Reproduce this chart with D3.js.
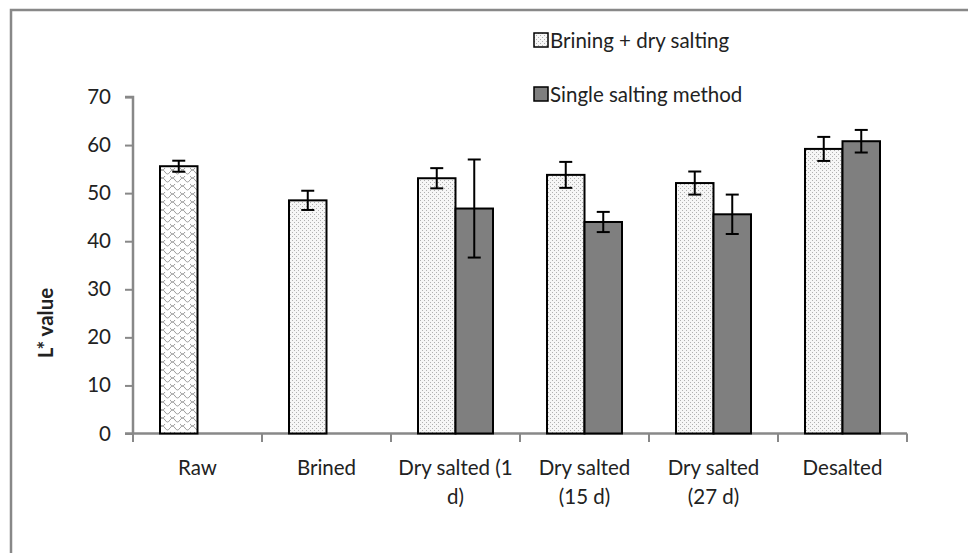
<!DOCTYPE html>
<html>
<head>
<meta charset="utf-8">
<script src="https://cdn.jsdelivr.net/npm/d3@7"></script>
<style>
  body { margin: 0; background: #fff; }
  text { font-family: Lato, "Open Sans", sans-serif; fill: #222; }
</style>
</head>
<body>
<div id="chart"></div>
<script>
// data
let categories = ["Raw", "Brined", "Dry salted (1 d)", "Dry salted (15 d)", "Dry salted (27 d)", "Desalted"]
let categoryLines = [["Raw"], ["Brined"], ["Dry salted (1", "d)"], ["Dry salted", "(15 d)"], ["Dry salted", "(27 d)"], ["Desalted"]]
let seriesNames = ["Brining + dry salting", "Single salting method"]
let brining = [55.6, 48.5, 53.1, 53.8, 52.1, 59.2]
let briningErr = [1.15, 2.0, 2.1, 2.7, 2.4, 2.5]
let single = [null, null, 46.8, 44.0, 45.6, 60.8]
let singleErr = [null, null, 10.2, 2.1, 4.1, 2.35]
let yTicks = [0, 10, 20, 30, 40, 50, 60, 70]

let width = 968;
let height = 553;
let fontSize = 20.5;

let svg = d3.select("#chart").append("svg")
    .attr("width", width)
    .attr("height", height);

let defs = svg.append("defs");

// fine dot pattern for the light bars
let dots = defs.append("pattern")
    .attr("id", "dots")
    .attr("patternUnits", "userSpaceOnUse")
    .attr("width", 4).attr("height", 4);
dots.append("rect").attr("width", 4).attr("height", 4).attr("fill", "#f6f6f6");
dots.append("rect").attr("x", 0).attr("y", 0).attr("width", 1).attr("height", 1).attr("fill", "#b0b0b0");
dots.append("rect").attr("x", 2).attr("y", 2).attr("width", 1).attr("height", 1).attr("fill", "#b0b0b0");

// scale / shingle pattern for the raw bar
let waves = defs.append("pattern")
    .attr("id", "waves")
    .attr("patternUnits", "userSpaceOnUse")
    .attr("width", 10).attr("height", 8);
waves.append("rect").attr("width", 10).attr("height", 8).attr("fill", "#fff");
waves.append("path")
    .attr("d", "M0,4 Q2.5,0 5,4 Q7.5,8 10,4 M-5,8 Q-2.5,4 0,8 M0,0 Q2.5,4 5,0")
    .attr("fill", "none")
    .attr("stroke", "#9a9a9a")
    .attr("stroke-width", 1);

// outer frame
svg.append("path")
    .attr("d", `M11,${height}V10H${width}`)
    .attr("fill", "none")
    .attr("stroke", "#888")
    .attr("stroke-width", 2.5);

let x = d3.scaleBand()
    .domain(categories)
    .range([133, 907])
    .paddingInner(0)
    .paddingOuter(0);

let inner = d3.scaleBand()
    .domain(seriesNames)
    .range([x.bandwidth() / 2 - 37.5, x.bandwidth() / 2 + 37.5]);

let y = d3.scaleLinear()
    .domain([0, 70])
    .range([433.5, 97]);

// y axis
let yAxis = svg.append("g")
    .attr("transform", "translate(133,0)")
    .call(d3.axisLeft(y).tickValues(yTicks).tickSize(8).tickPadding(14).tickFormat(d3.format("d")));
yAxis.select(".domain").attr("stroke", "#888").attr("stroke-width", 2.5).attr("d", "M-8,97H0V433.5");
yAxis.selectAll(".tick line").attr("stroke", "#888").attr("stroke-width", 2);
yAxis.selectAll(".tick text").attr("font-size", fontSize).attr("fill", "#222");

// x axis
let xAxis = svg.append("g")
    .attr("transform", "translate(0,433.5)")
    .call(d3.axisBottom(x).tickSize(0).tickFormat(""));
xAxis.select(".domain").attr("stroke", "#888").attr("stroke-width", 2.5).attr("d", "M125,0H907");
xAxis.selectAll(".tick line").remove();

let catTicks = categories.map(c => x(c)).concat([x.range()[1]]);
svg.append("g").selectAll("line")
    .data(catTicks)
    .join("line")
    .attr("x1", d => d).attr("x2", d => d)
    .attr("y1", 433.5).attr("y2", 442)
    .attr("stroke", "#888")
    .attr("stroke-width", 2);

let labels = svg.append("g").selectAll("text")
    .data(categories)
    .join("text")
    .attr("text-anchor", "middle")
    .attr("font-size", fontSize)
    .attr("transform", d => `translate(${x(d) + x.bandwidth() / 2}, 475)`);
labels.selectAll("tspan")
    .data((d, i) => categoryLines[i])
    .join("tspan")
    .attr("x", 0)
    .attr("dy", (d, i) => i === 0 ? 0 : 29)
    .text(d => d);

// y title
svg.append("text")
    .attr("transform", "translate(53,323) rotate(-90)")
    .attr("text-anchor", "middle")
    .attr("font-size", fontSize)
    .attr("font-weight", "bold")
    .attr("fill", "#111")
    .text("L* value");

// bars
let rows = [];
categories.forEach((c, i) => {
    rows.push({ cat: c, series: seriesNames[0], v: brining[i], e: briningErr[i], i: i });
    if (single[i] != null) rows.push({ cat: c, series: seriesNames[1], v: single[i], e: singleErr[i], i: i });
});

let fillFor = d => d.series === seriesNames[1] ? "#7f7f7f" : (d.i === 0 ? "url(#waves)" : "url(#dots)");

svg.append("g").selectAll("rect")
    .data(rows)
    .join("rect")
    .attr("x", d => x(d.cat) + inner(d.series))
    .attr("y", d => y(d.v))
    .attr("width", inner.bandwidth())
    .attr("height", d => y(0) - y(d.v))
    .attr("fill", fillFor)
    .attr("stroke", "#000")
    .attr("stroke-width", 2);

// error bars
let err = svg.append("g")
    .selectAll("g")
    .data(rows)
    .join("g")
    .attr("transform", d => `translate(${x(d.cat) + inner(d.series) + inner.bandwidth() / 2},0)`)
    .attr("stroke", "#000")
    .attr("stroke-width", 2);
err.append("line")
    .attr("y1", d => y(d.v + d.e)).attr("y2", d => y(d.v - d.e));
err.append("line")
    .attr("x1", -6.5).attr("x2", 6.5)
    .attr("y1", d => y(d.v + d.e)).attr("y2", d => y(d.v + d.e));
err.append("line")
    .attr("x1", -6.5).attr("x2", 6.5)
    .attr("y1", d => y(d.v - d.e)).attr("y2", d => y(d.v - d.e));

// legend
let legend = svg.append("g")
    .selectAll("g")
    .data(seriesNames)
    .join("g")
    .attr("transform", (d, i) => `translate(534, ${33 + i * 54})`);
legend.append("rect")
    .attr("width", 14).attr("height", 14)
    .attr("fill", (d, i) => i === 0 ? "url(#dots)" : "#7f7f7f")
    .attr("stroke", "#000")
    .attr("stroke-width", 1.5);
legend.append("text")
    .attr("x", 16)
    .attr("y", 14.5)
    .attr("font-size", fontSize)
    .text(d => d);
</script>
</body>
</html>
